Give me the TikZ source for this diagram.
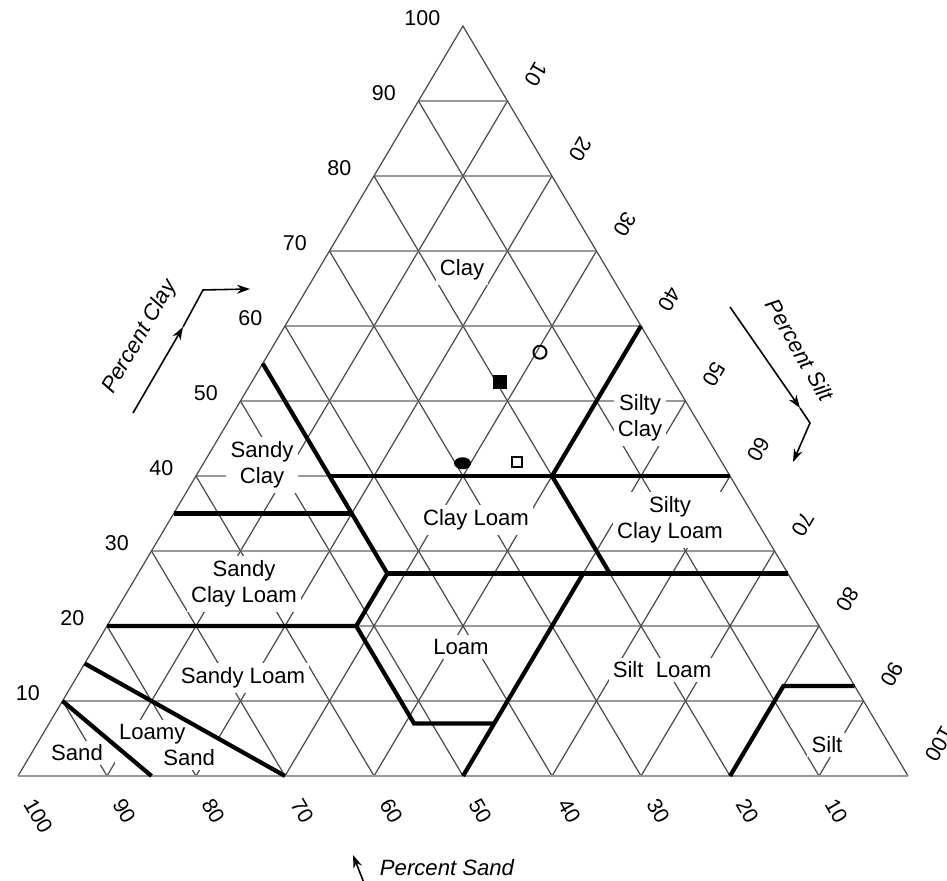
\documentclass[tikz,border=0pt]{standalone}
\usepackage{fontspec}
\setmainfont{Liberation Sans}
\usetikzlibrary{arrows.meta, shapes.geometric}
\tikzset{
ternary/.style={shift={(0.18,1.05)}, x={(0.089cm,0)}, y={(0.0445cm,0.075cm)}},
hgrid/.style={draw=black!40, line width=0.75pt},
dgrid/.style={draw=black!70, line width=0.35pt},
bound/.style={draw=black, line width=1.2pt},
region/.style={fill=white, inner sep=1.2pt, align=center, font=\fontsize{6.3}{7.4}\selectfont},
tick/.style={inner sep=0pt, font=\fontsize{6.1}{7}\selectfont},
axistitle/.style={inner sep=0pt, font=\fontsize{6.3}{7.4}\selectfont\itshape},
pointer/.style={line width=0.45pt, -{Stealth[length=1.3mm, width=0.9mm]}},
}

\begin{document}
\begin{tikzpicture}
\useasboundingbox (0,0) rectangle (9.47,8.81);

\begin{scope}[ternary]
    %grid, (silt, clay)
    \foreach \v in {10,20,...,90}{
        \draw[hgrid] (0,\v) -- ({100-\v},\v);
        \draw[dgrid] (\v,0) -- (\v,{100-\v});
        \draw[dgrid] (\v,0) -- (0,\v);
    }
    \draw[dgrid] (0,0) -- (0,100) -- (100,0);
    \draw[hgrid] (0,0) -- (100,0);

    %axis numbers
    \foreach \v in {10,20,...,100}{
        \node[tick, xshift=-0.22cm, yshift=0.08cm, anchor=east] (clay\v) at (0,\v) {\v};
        \node[tick, xshift=0.11cm, yshift=-0.24cm, rotate=-60, anchor=west] (sand\v) at ({100-\v},0) {\v};
        \node[tick, xshift=0.22cm, yshift=0.16cm, rotate=-120, anchor=east] (silt\v) at (\v,{100-\v}) {\v};
    }
\end{scope}

%class names
\node[region] (clay) at (4.62,6.11) {Clay};
\node[region] (sandyclay) at (2.62,4.16) {Sandy\\Clay};
\node[region] (clayloam) at (4.76,3.61) {Clay Loam};
\node[region] (siltyclay) at (6.40,4.63) {Silty\\Clay};
\node[region] (siltyclayloam) at (6.70,3.61) {Silty\\Clay Loam};
\node[region] (sandyclayloam) at (2.44,2.97) {Sandy\\Clay Loam};
\node[region] (loam) at (4.61,2.34) {Loam};
\node[region] (sandyloam) at (2.43,2.03) {Sandy Loam};
\node[region] (siltloam) at (6.62,2.11) {Silt\ \ Loam};
\node[region, align=left] (loamysand) at (1.67,1.36) {Loamy\\\hspace*{2em}Sand};
\node[region] (sand) at (0.77,1.28) {Sand};
\node[region] (silt) at (8.27,1.36) {Silt};

\begin{scope}[ternary]
    %class boundaries
    \draw[bound] (15,0) -- (0,10);
    \draw[bound] (30,0) -- (0,15);
    \draw[bound] (0,20) -- (28,20) -- (41,7) -- (50,7);
    \draw[bound] (28,20) -- (28,27) -- (0,55);
    \draw[bound] (28,27) -- (73,27);
    \draw[bound] (50,0) -- (50,27);
    \draw[bound] (0,35) -- (20,35);
    \draw[bound] (15,40) -- (60,40);
    \draw[bound] (53,27) -- (40,40) -- (40,60);
    \draw[bound] (80,0) -- (80,12) -- (88,12);

    %samples
    \node[draw, fill=black, inner sep=0pt, minimum size=0.13cm] (fullsq) at (27.9,52.5) {};
    \node[draw, circle, inner sep=0pt, line width=0.55pt, minimum size=0.13cm] (opencirc) at (30.4,56.5) {};
    \node[ellipse, fill=black, inner sep=0pt, minimum width=0.17cm, minimum height=0.12cm] (fullell) at (29.1,41.7) {};
    \node[draw, inner sep=0pt, line width=0.55pt, minimum size=0.1cm] (opensq) at (35.1,41.9) {};
\end{scope}

%axis titles and arrows
\node[axistitle, rotate=60] (tclay) at (1.40,5.44) {Percent Clay};
\node[axistitle, rotate=-60] (tsilt) at (8.00,5.31) {Percent Silt};
\node[axistitle] (tsand) at (4.47,0.13) {Percent Sand};

\coordinate (ca) at (1.33,4.68);
\coordinate (cb) at (1.83,5.54);
\coordinate (cc) at (2.03,5.91);
\coordinate (cd) at (2.50,5.92);
\draw[pointer] (ca) -- (cb);
\draw[pointer] (cb) -- (cc) -- (cd);

\coordinate (sa) at (7.30,5.74);
\coordinate (sb) at (8.00,4.73);
\coordinate (sc) at (8.10,4.58);
\coordinate (sd) at (7.93,4.19);
\draw[pointer] (sa) -- (sb);
\draw[pointer] (sb) -- (sc) -- (sd);

\coordinate (da) at (3.64,-0.02);
\coordinate (db) at (3.53,0.26);
\draw[pointer] (da) -- (db);

\end{tikzpicture}
\end{document}
